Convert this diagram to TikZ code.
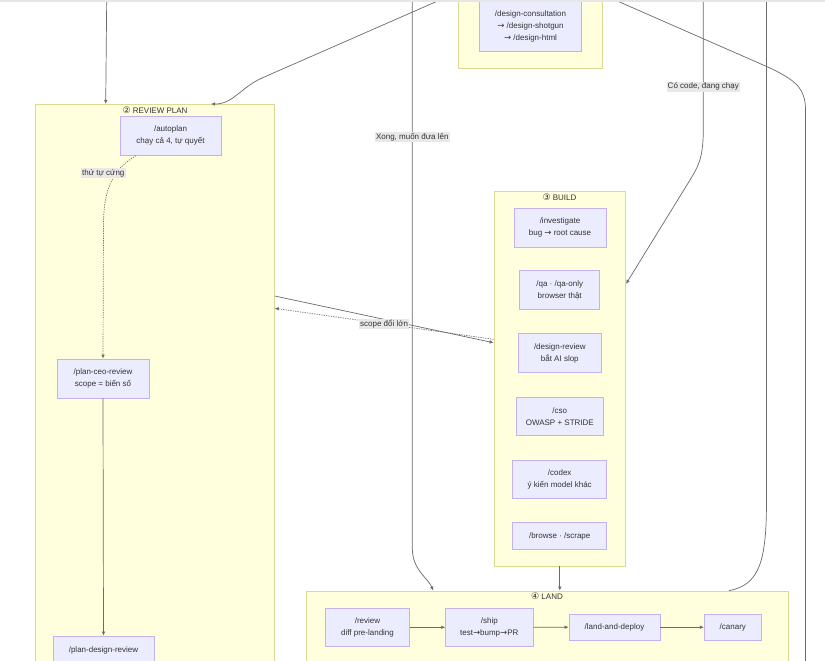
\documentclass[tikz,border=0pt]{standalone}
\usepackage{fontspec}
\setmainfont{Liberation Sans}
\newfontfamily\symfont{DejaVu Sans}
\usetikzlibrary{arrows.meta}
\definecolor{clfill}{HTML}{FFFFDE}
\definecolor{cldraw}{HTML}{DADA96}
\definecolor{ndfill}{HTML}{ECECFF}
\definecolor{nddraw}{HTML}{C4B2F0}
\definecolor{txt}{HTML}{333333}
\definecolor{edgecol}{HTML}{6A6A6A}
\definecolor{lblbg}{HTML}{E8E8E8}
\definecolor{strip}{HTML}{E6E6E6}
\newcommand{\myarr}{{\symfont\fontsize{8.5}{10}\selectfont →}}
\newcommand{\circnum}[1]{{\symfont\fontsize{9}{10}\selectfont #1}}
\tikzset{
  cluster/.style={draw=cldraw, fill=clfill, line width=0.8pt, inner sep=0pt},
  box/.style={draw=nddraw, fill=ndfill, line width=0.8pt, inner sep=0pt, align=center, text=txt, font=\fontsize{8}{11.8}\selectfont},
  cltitle/.style={text=txt, font=\fontsize{8}{10}\selectfont, inner sep=0pt},
  conn/.style={draw=edgecol, line width=0.7pt},
  arrowend/.style={-{Latex[length=4pt,width=3.6pt]}},
  dots/.style={dash pattern=on 1.2pt off 1.2pt},
  elabel/.style={fill=lblbg, text=txt, font=\fontsize{8}{10}\selectfont, inner sep=1.2pt},
}
\begin{document}
\begin{tikzpicture}[x=1pt,y=-1pt]
\useasboundingbox (0,0) rectangle (825,661);
\clip (0,0) rectangle (825,661);
\fill[white] (0,0) rectangle (825,661);

% clusters
\node[cluster, minimum width=144pt, minimum height=88.3pt] (designcl) at (530.3,24.2) {};
\node[cluster, minimum width=238.6pt, minimum height=595.7pt] (review) at (155,402.2) {};
\node[cluster, minimum width=131.7pt, minimum height=374.3pt] (build) at (559.8,378.8) {};
\node[cluster, minimum width=481.3pt, minimum height=109pt] (land) at (547.3,645.5) {};

% cluster titles
\node[cltitle] (reviewtitle) at (155,110) {\circnum{②} REVIEW PLAN};
\node[cltitle] (buildtitle) at (559.5,197.5) {\circnum{③} BUILD};
\node[cltitle] (landtitle) at (547,596.7) {\circnum{④} LAND};

% nodes
\node[box, minimum width=102.4pt, minimum height=50.4pt] (design) at (530.5,26.5) {/design-consultation\\\myarr{} /design-shotgun\\\myarr{} /design-html};
\node[box, minimum width=101pt, minimum height=39pt] (autoplan) at (170.5,135.7) {/autoplan\\chạy cả 4, tự quyết};
\node[box, minimum width=92pt, minimum height=39pt] (ceo) at (103,378.5) {/plan-ceo-review\\scope = biến số};
\node[box, minimum width=101pt, minimum height=28pt] (pdr) at (103.5,650) {/plan-design-review};

\node[box, minimum width=92pt, minimum height=39pt] (investigate) at (560,227.5) {/investigate\\bug \myarr{} root cause};
\node[box, minimum width=80pt, minimum height=39pt] (qa) at (559.7,290.3) {/qa · /qa-only\\browser thật};
\node[box, minimum width=83pt, minimum height=39pt] (designreview) at (559.8,353.3) {/design-review\\bắt AI slop};
\node[box, minimum width=87pt, minimum height=38pt] (cso) at (559.8,416.3) {/cso\\OWASP + STRIDE};
\node[box, minimum width=94pt, minimum height=38pt] (codex) at (559.7,479.2) {/codex\\ý kiến model khác};
\node[box, minimum width=94pt, minimum height=27pt] (browse) at (559.7,536) {/browse · /scrape};

\node[box, minimum width=84.4pt, minimum height=38pt] (rev) at (367.5,627.3) {/review\\diff pre-landing};
\node[box, minimum width=87.3pt, minimum height=38pt] (ship) at (489.3,627.3) {/ship\\test\myarr{}bump\myarr{}PR};
\node[box, minimum width=91pt, minimum height=26.3pt] (lad) at (614.5,627.2) {/land-and-deploy};
\node[box, minimum width=57pt, minimum height=26.3pt] (canary) at (732.8,627.2) {/canary};

% free ends at the top edge
\coordinate (ta) at (106.7,0);
\coordinate (tb) at (440,0);
\coordinate (tc) at (412.3,0);
\coordinate (td) at (703.3,0);
\coordinate (te) at (766.5,0);
\coordinate (tf) at (615,0);
\coordinate (bf) at (805.5,661);

% connectors
\draw[conn, arrowend] (ta) -- ([xshift=-49.3pt]review.north);
\draw[conn, arrowend] (tb) -- (262,78) .. controls (240,88) and (233,104.3) .. ([xshift=56pt]review.north);

\draw[conn, dots, arrowend] ([xshift=-34.5pt]autoplan.south) .. controls (112,170) and (103.5,190) .. (103.5,225)
   -- (ceo.north);
\node[elabel] (lbl1) at (103.3,173.3) {thứ tự cứng};
\draw[conn, arrowend] (ceo.south) -- (pdr.north);

\draw[conn, arrowend] ([yshift=106.2pt]review.east) -- ([yshift=36.1pt]build.west);
\draw[conn, dots, arrowend] ([yshift=39.5pt]build.west) -- node[elabel, pos=0.5] (lbl2) {scope đổi lớn} ([yshift=93.9pt]review.east);

\draw[conn, arrowend] (tc) -- (412.3,137) node[elabel] (lbl3) {Xong, muốn đưa lên} -- (412.3,548)
   .. controls (412.3,570) and (428,578) .. ([xshift=-114pt]land.north);
\draw[conn, arrowend] (td) -- (703.3,86.7) node[elabel] (lbl4) {Có code, đang chạy} -- (703.3,130)
   .. controls (703.3,160) and (697,168) .. (690,180) -- ([yshift=95pt]build.east);
\draw[conn] (te) -- (766.5,500) .. controls (766.5,560) and (760,585) .. ([xshift=181.7pt]land.north);
\draw[conn] (tf) -- (770,68) .. controls (795,80) and (805.5,88) .. (805.5,110) -- (bf);

\draw[conn, arrowend] (build.south) -- (build.south |- land.north);
\draw[conn, arrowend] (rev.east) -- (ship.west);
\draw[conn, arrowend] (ship.east) -- (lad.west);
\draw[conn, arrowend] (lad.east) -- (canary.west);

% top strip
\fill[strip] (0,0) rectangle (825,2.3);
\end{tikzpicture}
\end{document}
